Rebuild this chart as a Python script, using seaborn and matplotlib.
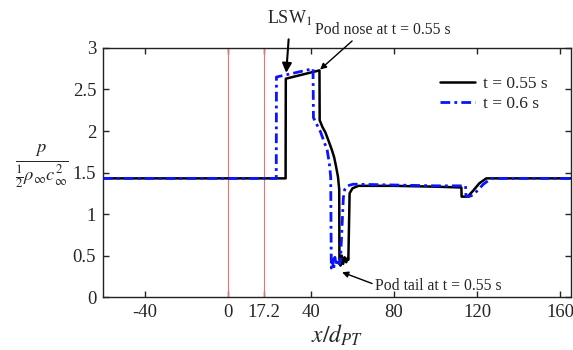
import numpy as np
import pandas as pd
import matplotlib
matplotlib.use("Agg")
import matplotlib.pyplot as plt
import seaborn as sns

# t = 0.55 s
x_t055 = [-60, 27.8, 27.9, 44.1, 44.2, 45.5, 47.0, 48.5, 50.1, 51.2, 52.1, 53.0, 53.6, 53.7,
          54.2, 54.8, 55.5, 56.2, 57.0, 57.6, 58.0, 58.6, 60.0, 62.8, 80, 100, 112.4, 112.5,
          115.4, 118, 121, 124.4, 165]
p_t055 = [1.43, 1.43, 2.63, 2.73, 2.13, 2.05, 1.98, 1.88, 1.77, 1.68, 1.57, 1.45, 1.30, 0.45,
          0.38, 0.50, 0.40, 0.48, 0.42, 0.47, 0.45, 1.25, 1.31, 1.34, 1.34, 1.33, 1.32, 1.21,
          1.21, 1.28, 1.37, 1.43, 1.43]
# t = 0.6 s
x_t06 = [-60, 23.3, 23.4, 41.0, 41.2, 43.0, 44.6, 46.2, 47.8, 48.8, 49.5, 49.8, 50.3, 50.9,
         51.5, 52.2, 52.9, 53.6, 54.2, 55.6, 56.3, 57.5, 60.4, 80, 100, 114.4, 114.6, 116,
         118, 120, 123, 126.8, 165]
p_t06 = [1.43, 1.43, 2.65, 2.75, 2.16, 2.07, 1.99, 1.88, 1.77, 1.62, 1.45, 0.35, 0.45, 0.33,
         0.48, 0.38, 0.46, 0.40, 0.44, 1.20, 1.30, 1.34, 1.36, 1.35, 1.34, 1.34, 1.22, 1.21,
         1.23, 1.28, 1.36, 1.43, 1.43]

x_ticks = [-40, 0, 17.2, 40, 80, 120, 160]
x_tick_labels = ["-40", "0", "17.2", "40", "80", "120", "160"]
y_ticks = [0, 0.5, 1, 1.5, 2, 2.5, 3]
y_tick_labels = ["0", "0.5", "1", "1.5", "2", "2.5", "3"]
ref_lines = [0, 17.2]

sns.set_style("ticks")
plt.rcParams["font.family"] = ["Liberation Serif", "DejaVu Serif"]
plt.rcParams["mathtext.fontset"] = "stix"

fig = plt.figure(figsize=(5.73, 3.5), dpi=100)
ax = fig.add_axes([0.18, 0.151, 0.816, 0.712])

for xv in ref_lines:
    ax.axvline(xv, color="#f07070", lw=0.8, zorder=1)

df1 = pd.DataFrame({"x": x_t055, "p": p_t055})
df2 = pd.DataFrame({"x": x_t06, "p": p_t06})
sns.lineplot(data=df1, x="x", y="p", sort=False, estimator=None, color="black",
             lw=1.8, ax=ax, label="t = 0.55 s", zorder=3)
sns.lineplot(data=df2, x="x", y="p", sort=False, estimator=None, color="#0a14ff",
             lw=2.0, ax=ax, label="t = 0.6 s", zorder=4, dashes=False)
ax.lines[-1].set_dashes([3.5, 1.5, 1, 1.5])

ax.set_xlim(-60, 165)
ax.set_ylim(0, 3)
ax.set_xticks(x_ticks)
ax.set_xticklabels(x_tick_labels)
ax.set_yticks(y_ticks)
ax.set_yticklabels(y_tick_labels)
ax.tick_params(direction="in", top=True, right=True, length=4, width=1,
               labelsize=13.5, pad=5)
for s in ax.spines.values():
    s.set_linewidth(1.0)
    s.set_color("#222222")

ax.set_xlabel(r"$x/d_{PT}$", fontsize=17, labelpad=1)
ax.set_ylabel("")
fig.text(0.073, 0.525, r"$\frac{p}{\frac{1}{2}\rho_\infty c_\infty^2}$", fontsize=19,
         ha="center", va="center")

leg = ax.legend(loc="upper right", bbox_to_anchor=(0.985, 0.95), frameon=False,
                fontsize=12.5, handlelength=2.0, handletextpad=0.5, labelspacing=0.2)

ax.annotate("LSW$_1$", xy=(28.1, 2.70), xytext=(30, 3.36), ha="center", va="center",
            fontsize=13, annotation_clip=False,
            arrowprops=dict(arrowstyle="-|>", color="black", lw=1.5, mutation_scale=14,
                            shrinkA=6, shrinkB=0))
ax.annotate("Pod nose at t = 0.55 s", xy=(44.4, 2.74), xytext=(42, 3.22), ha="left",
            va="center", fontsize=11.3, annotation_clip=False,
            arrowprops=dict(arrowstyle="-|>", color="black", lw=1.0, mutation_scale=9,
                            shrinkA=0, shrinkB=0, relpos=(0.3, 0.0)))
ax.annotate("Pod tail at t = 0.55 s", xy=(55.0, 0.30), xytext=(71, 0.13), ha="left",
            va="center", fontsize=11.3, annotation_clip=False,
            arrowprops=dict(arrowstyle="-|>", color="black", lw=1.0, mutation_scale=9,
                            shrinkA=0, shrinkB=0, relpos=(0.0, 0.6)))

fig.savefig("out.png", dpi=100)
